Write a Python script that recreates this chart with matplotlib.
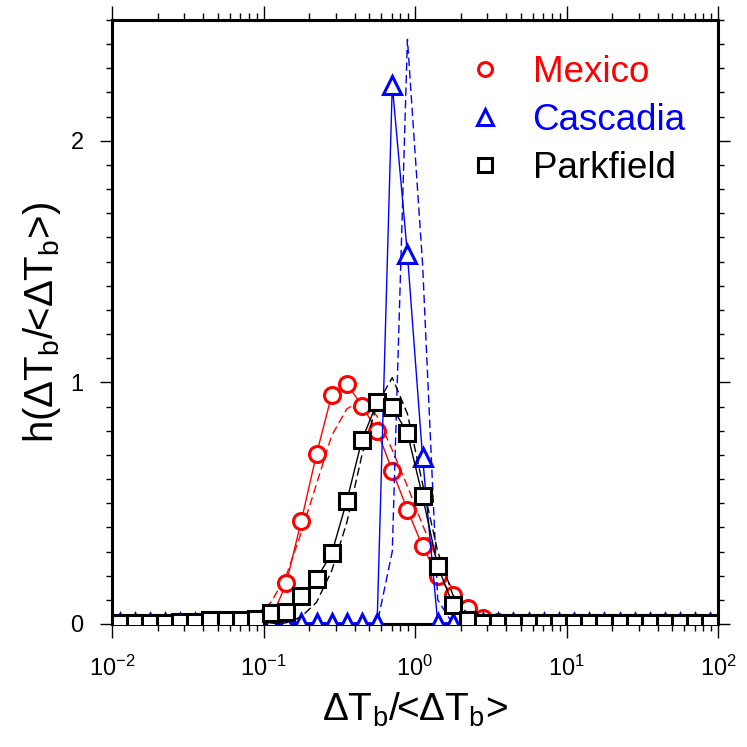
import numpy as np
import matplotlib
matplotlib.use("Agg")
import matplotlib.pyplot as plt
from matplotlib.lines import Line2D
from matplotlib.ticker import MultipleLocator, LogLocator

plt.rcParams['font.family'] = ['Liberation Sans', 'DejaVu Sans']
plt.rcParams['mathtext.fontset'] = 'custom'
plt.rcParams['mathtext.rm'] = 'Liberation Sans'
plt.rcParams['mathtext.it'] = 'Liberation Sans:italic'
plt.rcParams['mathtext.default'] = 'regular'

# bin centres, 0.1 decade wide, 10^-2 .. 10^2
bin_centres = 10 ** np.arange(-1.95, 2.0, 0.1)

# histograms h(dT/<dT>), one value per bin
mexico = [0.003, 0.003, 0.003, 0.003, 0.003, 0.003, 0.003, 0.003, 0.003, 0.008,
          0.02, 0.168, 0.428, 0.704, 0.947, 0.994, 0.904, 0.799, 0.635, 0.472,
          0.322, 0.198, 0.118, 0.065, 0.024, 0.01, 0.003, 0.003, 0.003, 0.003,
          0.003, 0.003, 0.003, 0.003, 0.003, 0.003, 0.003, 0.003, 0.003, 0.003]
cascadia = [0.005, 0.005, 0.005, 0.005, 0.005, 0.005, 0.005, 0.005, 0.005, 0.005,
            0.005, 0.005, 0.005, 0.005, 0.005, 0.005, 0.005, 0.005, 2.23, 1.53,
            0.69, 0.005, 0.005, 0.005, 0.005, 0.005, 0.005, 0.005, 0.005, 0.005,
            0.005, 0.005, 0.005, 0.005, 0.005, 0.005, 0.005, 0.005, 0.005, 0.005]
parkfield = [0.004, 0.004, 0.004, 0.004, 0.01, 0.01, 0.015, 0.015, 0.015, 0.022,
             0.045, 0.05, 0.115, 0.187, 0.292, 0.51, 0.762, 0.917, 0.897, 0.79,
             0.528, 0.24, 0.08, 0.018, 0.006, 0.004, 0.004, 0.004, 0.004, 0.004,
             0.004, 0.004, 0.004, 0.004, 0.004, 0.004, 0.004, 0.004, 0.004, 0.004]

# model curves (dashed)
mexico_model = [0, 0, 0, 0, 0, 0, 0, 0, 0.01, 0.04,
                0.09, 0.2, 0.38, 0.58, 0.78, 0.89, 0.93, 0.86, 0.72, 0.57,
                0.41, 0.26, 0.14, 0.07, 0.03, 0.01, 0, 0, 0, 0,
                0, 0, 0, 0, 0, 0, 0, 0, 0, 0]
cascadia_model = [0, 0, 0, 0, 0, 0, 0, 0, 0, 0,
                  0, 0, 0, 0, 0, 0, 0, 0, 0.3, 2.42,
                  1.49, 0.1, 0, 0, 0, 0, 0, 0, 0, 0,
                  0, 0, 0, 0, 0, 0, 0, 0, 0, 0]
parkfield_model = [0, 0, 0, 0, 0, 0, 0, 0, 0, 0,
                   0, 0.005, 0.03, 0.09, 0.22, 0.42, 0.70, 0.91, 1.02, 0.87,
                   0.58, 0.30, 0.12, 0.04, 0.012, 0.003, 0, 0, 0, 0,
                   0, 0, 0, 0, 0, 0, 0, 0, 0, 0]

names = ['Mexico', 'Cascadia', 'Parkfield']
colors = ['red', 'blue', 'black']
markers = ['o', '^', 's']
msizes = [11.5, 13, 12]

fig = plt.figure(figsize=(7.47, 7.47), dpi=100)
ax = fig.add_axes([112 / 747, 123 / 747, 606 / 747, 604 / 747])

series = [(mexico, mexico_model), (cascadia, cascadia_model), (parkfield, parkfield_model)]
for i, (obs, model) in enumerate(series):
    ax.plot(bin_centres, model, color=colors[i], lw=1.0, dashes=(6, 3), zorder=2 + i)
    ax.plot(bin_centres, obs, color=colors[i], lw=1.0, marker=markers[i],
            ms=msizes[i], mfc='white', mec=colors[i], mew=2.2, zorder=2 + i)

ax.set_xscale('log')
ax.set_xlim(1e-2, 1e2)
ax.set_ylim(0, 2.5)
ax.yaxis.set_major_locator(MultipleLocator(1))
ax.yaxis.set_minor_locator(MultipleLocator(0.1))
ax.xaxis.set_minor_locator(LogLocator(base=10, subs=np.arange(2, 10)))

for s in ax.spines.values():
    s.set_linewidth(2.2)
ax.tick_params(which='both', direction='out', top=True, right=True, width=1.0)
ax.tick_params(axis='x', which='major', length=10, pad=13, labelsize=17)
ax.tick_params(axis='x', which='minor', length=5)
ax.tick_params(axis='y', which='major', length=8.5, pad=12, labelsize=17)
ax.tick_params(axis='y', which='minor', length=4.5)

ax.set_xlabel('ΔT$_\\mathregular{b}$/<ΔT$_\\mathregular{b}$>', fontsize=28, labelpad=7)
ax.set_ylabel('h(ΔT$_\\mathregular{b}$/<ΔT$_\\mathregular{b}$>)', fontsize=29, labelpad=5)

handles = [Line2D([], [], ls='none', marker=markers[i], ms=msizes[i] - 1.5, mfc='white',
                  mec=colors[i], mew=2.2) for i in range(3)]
ax.legend(handles, names, loc='upper left', bbox_to_anchor=(0.53, 0.997), frameon=False,
          fontsize=26.5, labelcolor=colors, handlelength=1.0, handletextpad=0.8,
          labelspacing=0.35)

fig.savefig('out.png', dpi=100)
